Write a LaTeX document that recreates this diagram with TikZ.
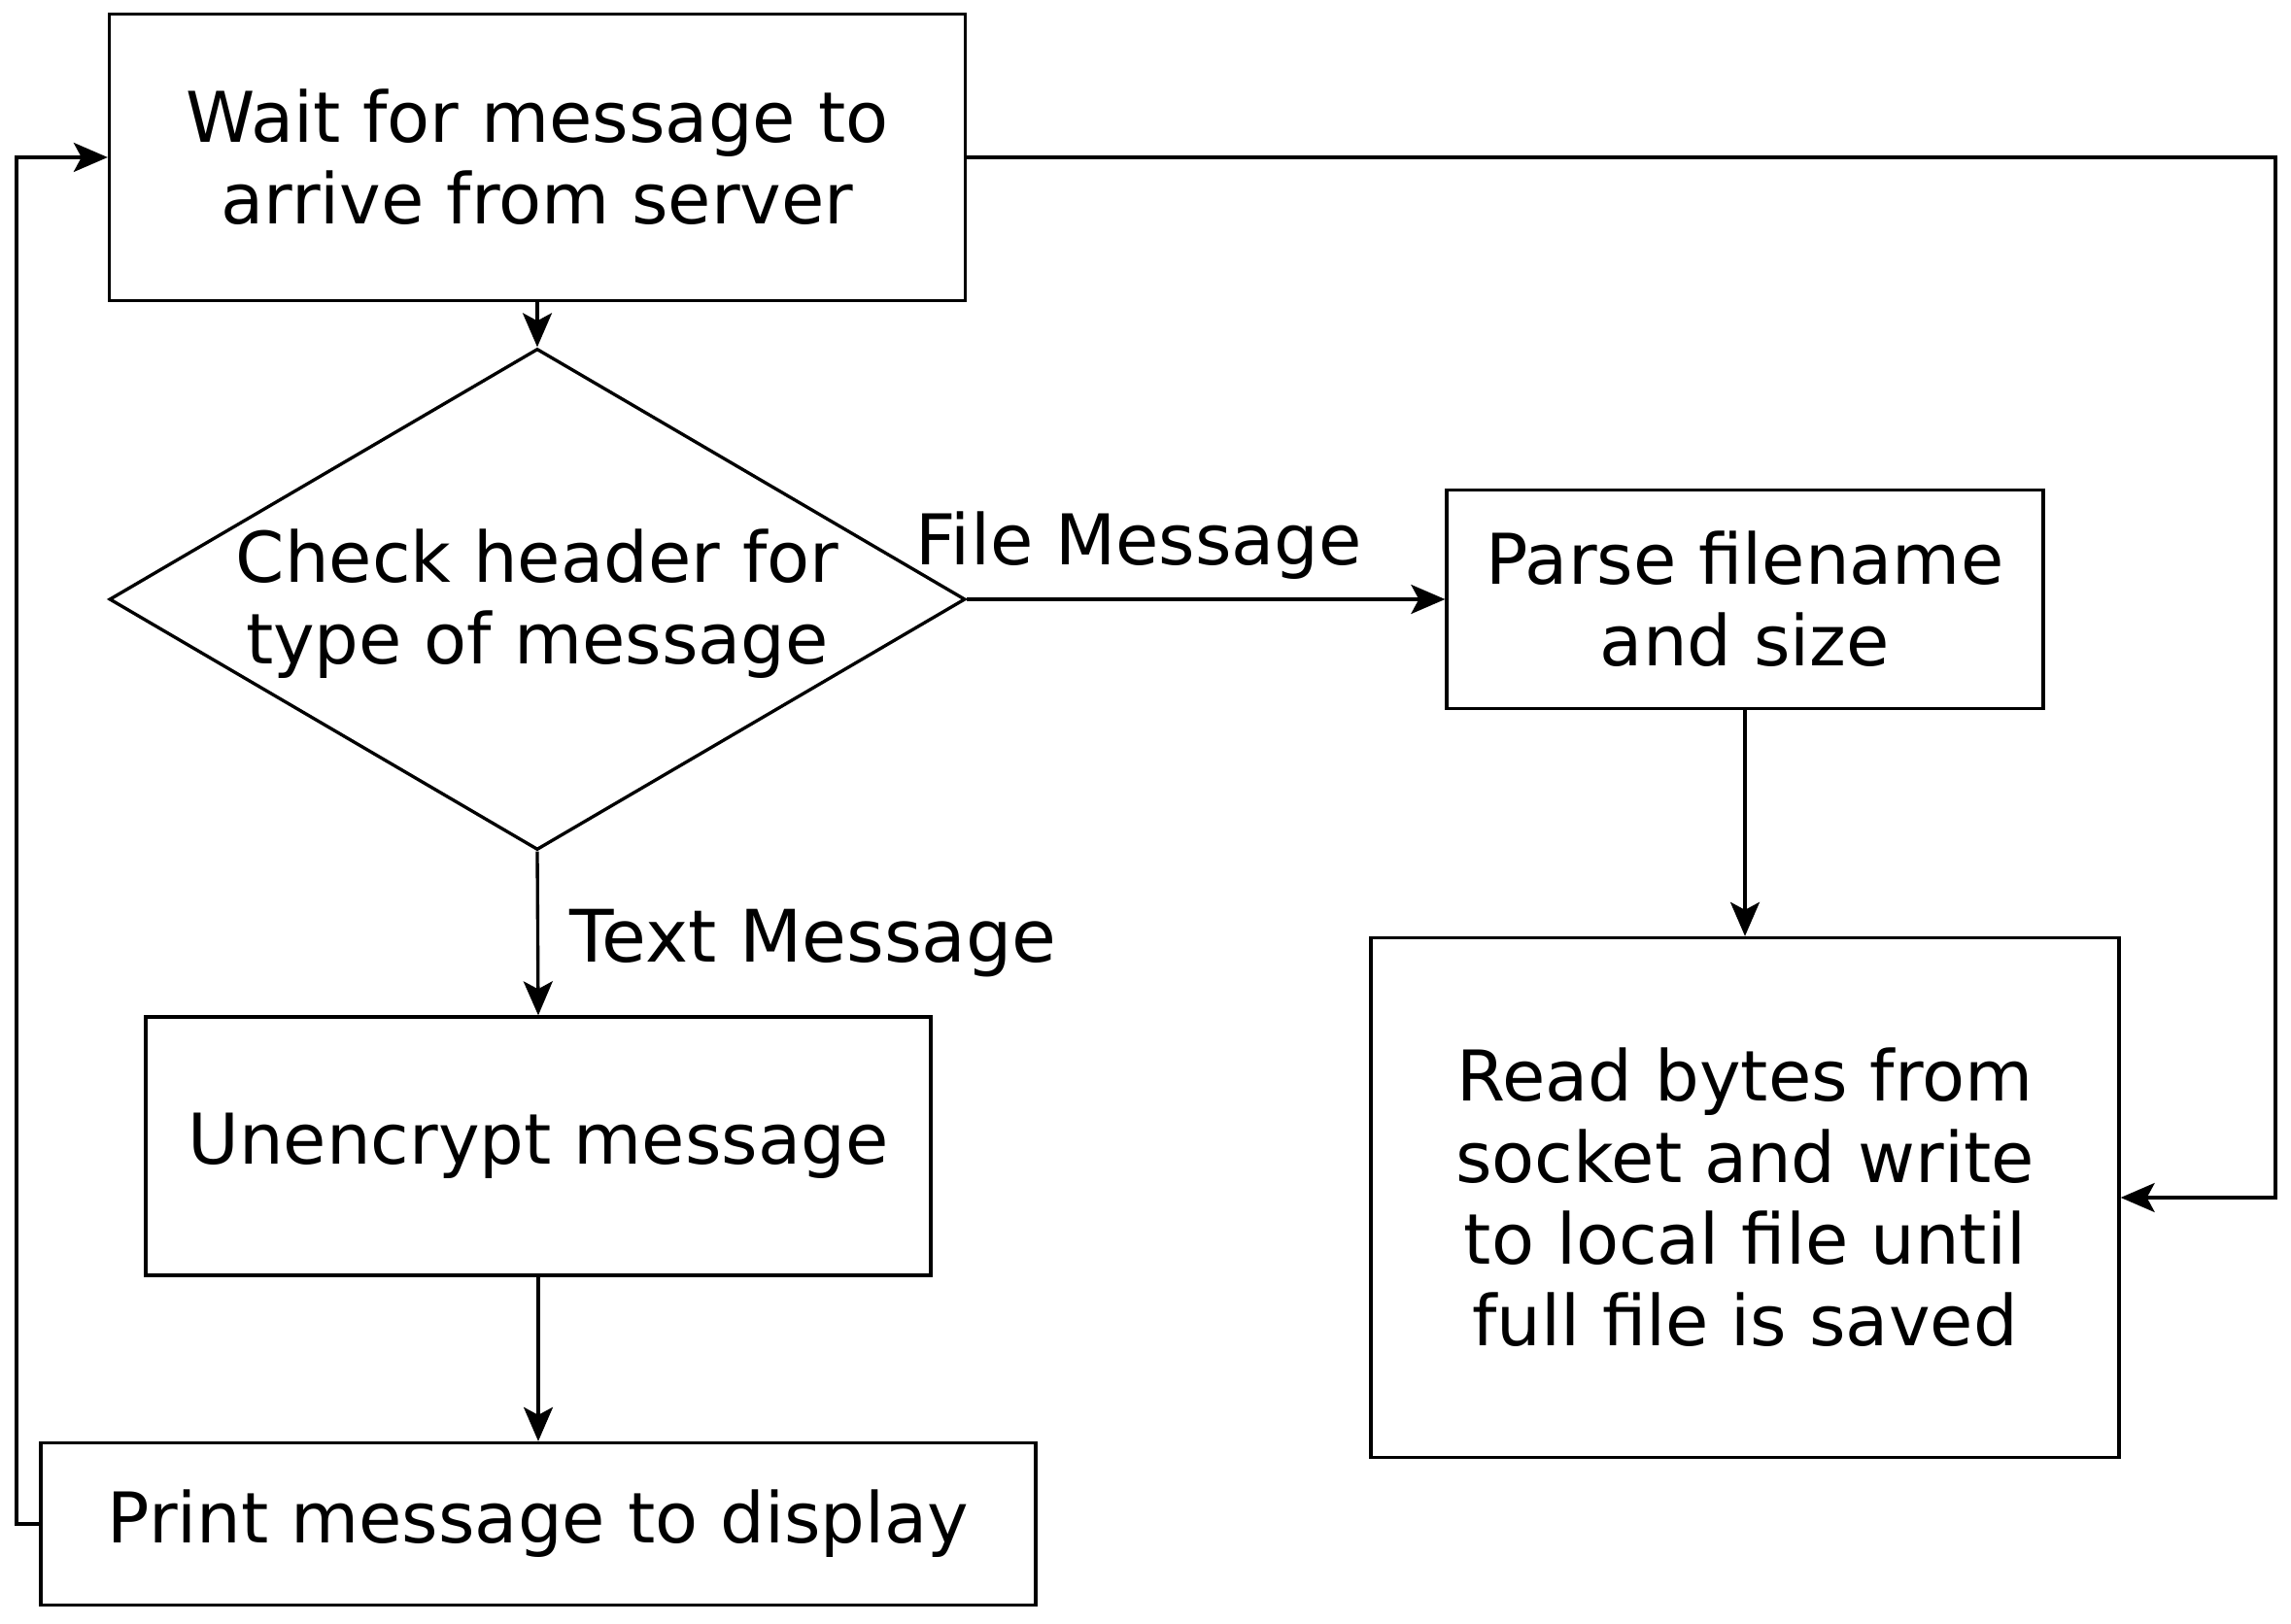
\documentclass[tikz,border=0pt]{standalone}
\usepackage{fontspec}
\setmainfont{DejaVu Sans}
\usetikzlibrary{shapes.geometric,arrows.meta}
\begin{document}
\begin{tikzpicture}[
    font=\fontsize{20.5}{23.9}\selectfont, line width=0.95pt,
    procbox/.style={draw, rectangle, align=center, inner sep=0pt},
    decision/.style={draw, diamond, inner sep=0pt, minimum width=8.81cm, minimum height=5.16cm},
    flow/.style={-{Stealth[length=0.35cm, width=0.3cm, inset=0.08cm]}}
]
    \useasboundingbox (0,0) rectangle (23.58,16.71);

    % --- text message branch ---
    \node[procbox, minimum width=8.81cm, minimum height=2.95cm] (wait) at (5.53,15.09) {Wait for message to\\arrive from server};
    \node[decision, label={[align=center, yshift=-1.25pt]center:Check header for\\type of message}] (check) at (5.53,10.54) {};
    \node[procbox, minimum width=8.08cm, minimum height=2.66cm] (unenc) at (5.54,4.91) {Unencrypt message};
    \node[procbox, minimum width=10.24cm, minimum height=1.67cm] (print) at (5.54,1.02) {Print message to display};

    % --- file message branch ---
    \node[procbox, minimum width=6.14cm, minimum height=2.25cm] (parse) at (17.96,10.54) {Parse filename\\and size};
    \node[procbox, minimum width=7.70cm, minimum height=5.35cm] (read) at (17.96,4.38) {Read bytes from\\socket and write\\to local file until\\full file is saved};

    \coordinate (loopL) at (0.17,15.09);
    \coordinate (loopR) at (23.42,4.38);

    \draw[flow] (wait) -- (check);
    \draw[flow] (check.east) -- node[above, pos=0.36, inner sep=5.5pt] (filelbl) {File Message} (parse.west);
    \draw[flow] (check.south) -- node[right, midway, inner sep=9pt, yshift=-3pt, font=\fontsize{21.2}{24}\selectfont] (textlbl) {Text Message} (unenc.north);
    \draw[flow] (unenc) -- (print);
    \draw[flow] (parse) -- (read);

    % Loops back to the top, and on to the reader
    \draw[flow] (print.west) -| (loopL) -- (wait.west);
    \draw[flow] (wait.east) -| (loopR) -- (read.east);
\end{tikzpicture}
\end{document}
